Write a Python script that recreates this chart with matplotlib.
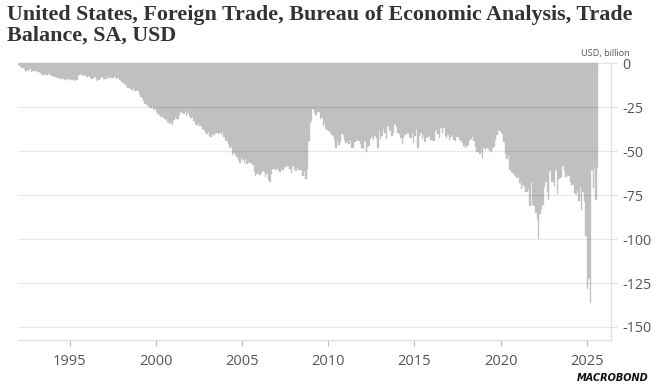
import matplotlib
matplotlib.use("Agg")
import matplotlib.pyplot as plt
import numpy as np

# monthly trade balance, USD billion, SA (Jan 1992 - Aug 2025)
balance_1990s = [
    -1.0, -1.8, -2.5, -2.8, -3.2, -4.5, -4.0, -4.2, -3.6, -5.0, -4.2, -4.5,        # 1992
    -4.5, -5.0, -5.2, -5.8, -6.0, -6.5, -6.0, -6.8, -6.5, -6.0, -6.8, -7.2,        # 1993
    -7.5, -7.8, -8.0, -8.4, -8.2, -8.8, -9.2, -8.6, -9.4, -9.0, -9.6, -8.8,        # 1994
    -9.5, -9.8, -9.2, -10.0, -9.6, -9.8, -6.8, -6.2, -7.0, -7.4, -6.5, -7.8,       # 1995
    -8.0, -7.2, -8.5, -8.8, -8.2, -7.6, -10.2, -9.2, -9.8, -8.4, -8.0, -9.0,       # 1996
    -8.8, -9.2, -7.5, -8.6, -7.6, -8.2, -8.4, -8.0, -9.0, -8.6, -9.4, -9.8,        # 1997
    -10.5, -11.5, -12.0, -13.2, -14.0, -13.5, -14.8, -15.2, -14.0, -15.8, -15.0, -16.0,  # 1998
    -17.5, -19.0, -20.0, -21.5, -23.0, -23.5, -24.2, -24.8, -25.5, -25.2, -26.5, -26.0,  # 1999
]
balance_2000s = [
    -27.5, -29.0, -29.5, -30.5, -30.0, -31.2, -32.5, -31.5, -33.5, -34.5, -33.8, -35.0,  # 2000
    -32.5, -30.8, -31.5, -32.0, -29.5, -27.5, -28.5, -29.0, -27.0, -30.0, -28.2, -29.8,  # 2001
    -31.0, -30.5, -33.0, -34.5, -35.2, -34.0, -36.0, -35.5, -37.2, -38.0, -39.5, -40.5,  # 2002
    -39.0, -41.5, -42.0, -40.5, -41.0, -40.0, -39.5, -40.5, -40.0, -41.0, -39.0, -42.0,  # 2003
    -43.5, -44.5, -46.0, -48.5, -47.0, -52.0, -51.0, -52.5, -53.5, -55.0, -56.5, -54.0,  # 2004
    -55.0, -57.0, -54.5, -57.5, -56.0, -56.5, -57.0, -58.0, -62.0, -64.0, -63.0, -62.5,  # 2005
    -63.5, -62.5, -61.5, -62.0, -64.5, -63.0, -66.5, -67.5, -63.0, -60.0, -59.5, -60.5,  # 2006
    -59.5, -61.0, -62.0, -60.0, -60.5, -59.0, -59.0, -58.0, -58.5, -60.0, -62.5, -58.5,  # 2007
    -60.0, -61.5, -59.0, -61.0, -60.5, -60.5, -64.0, -61.5, -66.0, -60.0, -44.5, -34.0,  # 2008
    -33.0, -26.0, -28.5, -29.5, -27.5, -28.0, -31.5, -31.0, -35.5, -34.0, -37.5, -38.0,  # 2009
]
balance_2010s = [
    -38.5, -39.5, -41.0, -41.5, -43.5, -48.5, -44.0, -46.5, -45.0, -40.5, -41.0, -43.5,  # 2010
    -45.5, -44.0, -46.0, -43.5, -48.0, -48.5, -45.0, -44.5, -43.0, -44.5, -46.0, -48.5,  # 2011
    -49.0, -44.5, -50.5, -47.5, -47.0, -43.0, -42.0, -43.5, -41.5, -42.5, -48.0, -38.5,  # 2012
    -43.0, -41.5, -37.5, -39.5, -43.0, -35.5, -38.5, -38.0, -41.5, -39.5, -34.5, -36.5,  # 2013
    -39.5, -40.5, -42.5, -46.0, -42.5, -41.0, -40.5, -39.5, -42.0, -42.5, -39.5, -45.5,  # 2014
    -41.5, -37.5, -48.5, -41.5, -40.0, -43.0, -41.0, -45.0, -42.5, -42.0, -41.5, -43.5,  # 2015
    -43.5, -44.0, -38.5, -38.0, -40.5, -42.5, -37.0, -39.5, -37.0, -41.5, -42.5, -41.0,  # 2016
    -43.5, -42.0, -41.0, -43.5, -44.5, -42.0, -42.0, -43.5, -44.0, -45.5, -47.0, -48.0,  # 2017
    -47.0, -46.5, -44.5, -43.0, -41.5, -44.5, -47.5, -50.5, -50.0, -51.5, -49.5, -54.0,  # 2018
    -48.5, -49.5, -48.0, -49.0, -50.0, -50.5, -49.0, -47.5, -43.5, -41.0, -37.5, -38.5,  # 2019
]
balance_2020s = [
    -39.5, -40.5, -45.0, -51.5, -54.5, -53.0, -60.5, -62.0, -62.5, -63.5, -64.0, -65.5,  # 2020
    -64.5, -68.0, -71.5, -69.0, -70.5, -73.0, -73.5, -71.5, -81.0, -67.5, -80.5, -81.5,  # 2021
    -85.0, -88.5, -100.0, -85.5, -83.0, -80.5, -70.5, -67.5, -73.0, -78.0, -61.5, -67.5,  # 2022
    -67.5, -70.0, -61.0, -74.5, -66.0, -65.5, -64.5, -58.5, -61.5, -64.5, -63.5, -64.0,  # 2023
    -67.5, -69.0, -69.5, -74.0, -74.5, -72.5, -78.5, -70.5, -83.5, -73.5, -78.5, -98.5,  # 2024
    -128.5, -123.0, -136.5, -60.5, -71.0, -59.5, -78.0, -59.5,                           # 2025
]
start_year = 1992
year_ticks = [1995, 2000, 2005, 2010, 2015, 2020, 2025]
value_ticks = [0, -25, -50, -75, -100, -125, -150]

title = "United States, Foreign Trade, Bureau of Economic Analysis, Trade\nBalance, SA, USD"
unit = "USD, billion"

values = np.array(balance_1990s + balance_2000s + balance_2010s + balance_2020s)
months = start_year + np.arange(len(values)) / 12.0

fig = plt.figure(figsize=(6.52, 3.88), dpi=100)
ax = fig.add_axes([0.0276, 0.1237, 0.9094, 0.7163])

bar_col = "#c0c0c0"
ax.bar(months, values, width=1 / 12, align="edge", color=bar_col,
       edgecolor=bar_col, linewidth=0.25, zorder=2)

ax.set_xlim(1992.0, 2026.4)
ax.set_ylim(-157.4, 0.6)

ax.yaxis.tick_right()
ax.set_yticks(value_ticks)
ax.set_yticklabels([str(v) for v in value_ticks])
ax.set_xticks(year_ticks)
ax.set_xticklabels([str(y) for y in year_ticks])

for v in value_ticks[1:]:
    ax.axhline(v, color="black", alpha=0.09, lw=0.9, zorder=3)
ax.axhline(0, color="#e6e6e6", lw=0.9, zorder=1)

for side in ["top", "left"]:
    ax.spines[side].set_visible(False)
for side in ["bottom", "right"]:
    ax.spines[side].set_color("#e0e0e0")
    ax.spines[side].set_linewidth(0.9)

ax.tick_params(axis="y", length=4, color="#e0e0e0", pad=4,
               labelsize=10.3, labelcolor="#555555")
ax.tick_params(axis="x", length=4, color="#bbbbbb", pad=6,
               labelsize=10.5, labelcolor="#555555")
for lab in ax.get_xticklabels() + ax.get_yticklabels():
    lab.set_family("Open Sans")

t = fig.text(0.011, 0.988, title, ha="left", va="top", family="Liberation Serif",
             fontweight="bold", fontsize=14, color="#333333", linespacing=1.05)
# shrink the title so its first line ends near x = 630 px like the reference
fig.canvas.draw()
w = t.get_window_extent().width
t.set_fontsize(14 * 623 / w)

fig.text(0.966, 0.863, unit, ha="right", va="center", family="Open Sans",
         fontsize=6.6, color="#555555")
fig.text(0.994, 0.012, "MACROBOND", ha="right", va="bottom", family="DejaVu Sans",
         fontweight="heavy", style="italic", fontsize=7, color="#111111")

fig.savefig("out.png", dpi=100)
